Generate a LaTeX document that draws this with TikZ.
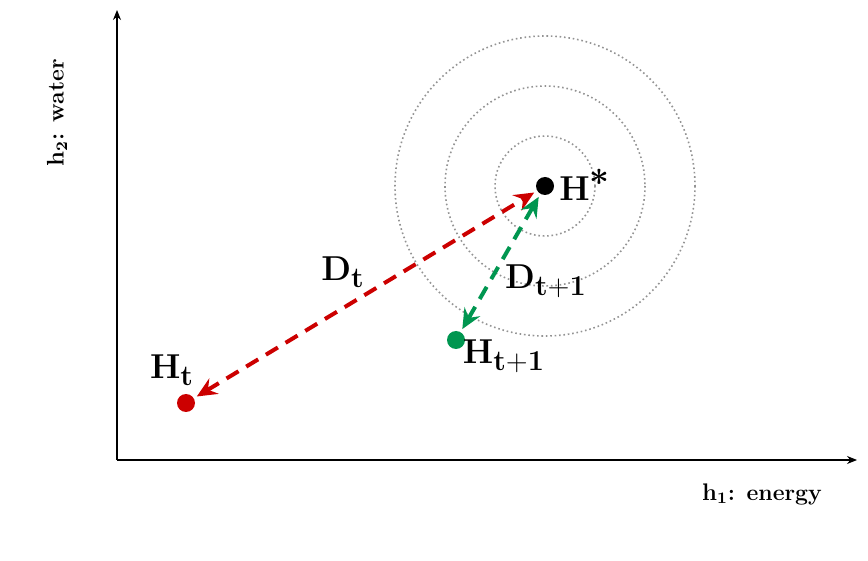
\documentclass[tikz,border=0pt]{standalone}
\usepackage{amsmath,bm}
\usetikzlibrary{arrows.meta}
\DeclareMathSizes{17.28}{17.28}{13.5}{11}
\definecolor{myred}{RGB}{204,0,0}
\definecolor{mygreen}{RGB}{0,150,80}
\tikzset{
  dot/.style={circle, inner sep=0pt, minimum size=9pt, outer sep=1.8pt},
  axis/.style={line width=0.6pt, -{Stealth[length=5pt,width=4pt]}},
  ring/.style={gray!85, dash pattern=on 0.8pt off 1.4pt, line width=0.8pt},
  dist/.style={line width=2pt, dash pattern=on 7pt off 4.5pt,
    {Stealth[length=10pt,width=9pt,inset=3.5pt]}-{Stealth[length=10pt,width=9pt,inset=3.5pt]}},
  lbl/.style={font=\LARGE},
  axlbl/.style={font=\fontsize{11.5}{13}\selectfont\bfseries}
}
\begin{document}
\begin{tikzpicture}[x=0.5pt,y=-0.5pt]
\useasboundingbox (0,0) rectangle (868,561);
% axes
\coordinate (O) at (117,460);
\coordinate (Yend) at (117,10);
\coordinate (Xend) at (857,460);
\draw[axis] (O) -- (Yend);
\draw[axis] (O) -- (Xend);
% rings
\coordinate (C) at (545,186);
\draw[ring] (C) circle[radius=50];
\draw[ring] (C) circle[radius=100];
\draw[ring] (C) circle[radius=150];
% points
\node[dot, fill=black] (Hs) at (545,186) {};
\node[dot, fill=myred] (Ht) at (186,403) {};
\node[dot, fill=mygreen] (Ht1) at (456,340) {};
% distance arrows
\draw[dist, myred] (Ht) -- (Hs);
\draw[dist, mygreen] (Ht1) -- (Hs);
% labels
\node[lbl] (LHs) at (585,185) {$\mathbf{H}^{\raisebox{1pt}{$\bm{*}$}}$};
\node[lbl] (LHt) at (172,370) {$\mathbf{H}_{\mathbf{t}}$};
\node[lbl] (LHt1) at (504,356) {$\mathbf{H_{t+1}}$};
\node[lbl] (LDt) at (343,272) {$\mathbf{D_t}$};
\node[lbl] (LDt1) at (546,281) {$\mathbf{D_{t+1}}$};
\node[axlbl, rotate=90] (ylab) at (57,113) {$\mathbf{h_2}$: water};
\node[axlbl] (xlab) at (762,494) {$\mathbf{h_1}$: energy};
\end{tikzpicture}
\end{document}
